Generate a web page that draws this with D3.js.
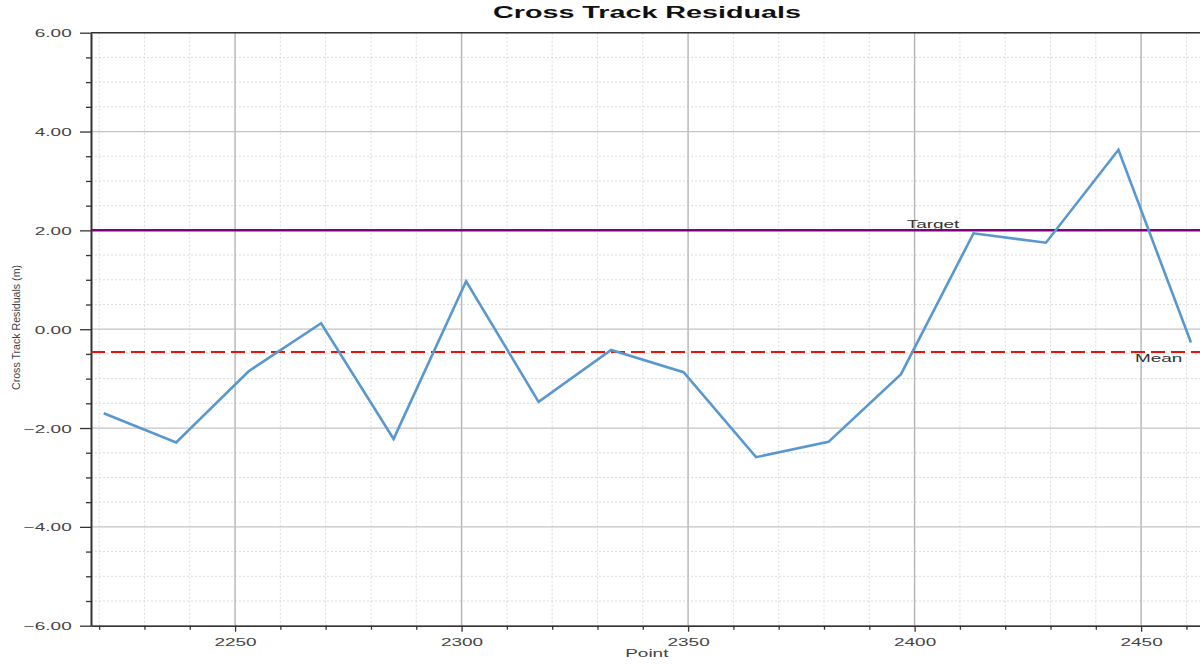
<!DOCTYPE html>
<html>
<head>
<meta charset="utf-8">
<script src="https://d3js.org/d3.v7.min.js"></script>
<style>
  html, body { margin: 0; padding: 0; background: #fff; }
  svg { display: block; }
  text { font-family: "Liberation Sans", Arial, sans-serif; }
</style>
</head>
<body>
<svg id="chart" width="1200" height="665"></svg>
<script>
// ---- data ----
const points = [2221, 2237, 2253, 2269, 2285, 2301, 2317, 2333, 2349, 2365, 2381, 2397, 2413, 2429, 2445, 2461];
const residuals = [-1.70, -2.29, -0.85, 0.12, -2.22, 0.97, -1.47, -0.42, -0.87, -2.59, -2.28, -0.91, 1.94, 1.75, 3.63, -0.27];
const targetValue = 2.0;
const meanValue = -0.46;
const yTicks = [-6, -4, -2, 0, 2, 4, 6];
const xTicks = [2250, 2300, 2350, 2400, 2450];
const xDomain = [2218.2, 2463];
const yDomain = [-6, 6];
const titleText = "Cross Track Residuals";
const xTitle = "Point";
const yTitle = "Cross Track Residuals (m)";

// ---- layout ----
const M = { l: 91, r: 1200, t: 32.7, b: 625.7 };
const SX = 1.62;      // horizontal stretch of text in the reference
const FS = 11.7;

const svg = d3.select("#chart");
const x = d3.scaleLinear().domain(xDomain).range([M.l, M.r]);
const y = d3.scaleLinear().domain(yDomain).range([M.b, M.t]);

// minor grid
const xMinor = d3.range(2220, 2464, 10).filter(v => !xTicks.includes(v));
const yMinor = d3.range(-6, 6.001, 0.5).filter(v => !yTicks.includes(v));

const grid = svg.append("g");
grid.selectAll("line.xm").data(xMinor).join("line")
  .attr("x1", d => x(d)).attr("x2", d => x(d)).attr("y1", M.t).attr("y2", M.b)
  .attr("stroke", "#dcdcdc").attr("stroke-width", 1).attr("stroke-dasharray", "2,2");
grid.selectAll("line.ym").data(yMinor).join("line")
  .attr("x1", M.l).attr("x2", M.r).attr("y1", d => y(d)).attr("y2", d => y(d))
  .attr("stroke", "#dcdcdc").attr("stroke-width", 1).attr("stroke-dasharray", "2,2");
grid.selectAll("line.xM").data(xTicks).join("line")
  .attr("x1", d => x(d)).attr("x2", d => x(d)).attr("y1", M.t).attr("y2", M.b)
  .attr("stroke", "#b4b4b4").attr("stroke-width", 1.4);
grid.selectAll("line.yM").data(yTicks).join("line")
  .attr("x1", M.l).attr("x2", M.r).attr("y1", d => y(d)).attr("y2", d => y(d))
  .attr("stroke", "#c4c4c4").attr("stroke-width", 1.2);

// top frame line
svg.append("line").attr("x1", M.l).attr("x2", M.r).attr("y1", M.t).attr("y2", M.t)
  .attr("stroke", "#333").attr("stroke-width", 1.5);

// axes
const yAxis = d3.axisLeft(y).tickValues(yTicks).tickSize(11).tickSizeOuter(0).tickFormat(d3.format(".2f"));
const yMinorAxis = d3.axisLeft(y).tickValues(yMinor).tickSize(5).tickFormat("");
const xAxis = d3.axisBottom(x).tickValues(xTicks).tickSize(6).tickSizeOuter(0).tickFormat(d3.format("d"));
const xMinorAxis = d3.axisBottom(x).tickValues(xMinor).tickSize(4).tickFormat("");

const gy = svg.append("g").attr("transform", `translate(${M.l},0)`).call(yAxis);
svg.append("g").attr("transform", `translate(${M.l},0)`).call(yMinorAxis).select(".domain").remove();
const gx = svg.append("g").attr("transform", `translate(0,${M.b})`).call(xAxis);
svg.append("g").attr("transform", `translate(0,${M.b})`).call(xMinorAxis).select(".domain").remove();

svg.selectAll(".tick line").attr("stroke", "#333").attr("stroke-width", 1.3);
gy.select(".domain").attr("stroke", "#333").attr("stroke-width", 2);
gx.select(".domain").attr("stroke", "#333").attr("stroke-width", 1.5);

gy.selectAll(".tick text")
  .attr("x", -19.3 / SX).attr("dy", "0.35em")
  .attr("transform", `scale(${SX},1)`)
  .attr("font-size", FS).attr("fill", "#444").attr("font-family", "Liberation Sans, Arial, sans-serif");
gx.selectAll(".tick text")
  .attr("y", 20.3).attr("dy", 0)
  .attr("transform", `scale(${SX},1)`)
  .attr("font-size", FS).attr("fill", "#444").attr("font-family", "Liberation Sans, Arial, sans-serif");

// reference lines
svg.append("line")
  .attr("x1", M.l).attr("x2", M.r).attr("y1", y(targetValue)).attr("y2", y(targetValue))
  .attr("stroke", "#800080").attr("stroke-width", 2.5);
svg.append("line")
  .attr("x1", M.l).attr("x2", M.r).attr("y1", y(meanValue)).attr("y2", y(meanValue))
  .attr("stroke", "#e8120c").attr("stroke-width", 2).attr("stroke-dasharray", "14,6");

// data line
const data = points.map((p, i) => ({ p, v: residuals[i] }));
svg.append("path").datum(data)
  .attr("fill", "none").attr("stroke", "#5898cf").attr("stroke-width", 2.6)
  .attr("stroke-linejoin", "miter")
  .attr("d", d3.line().x(d => x(d.p)).y(d => y(d.v)));

// stretched text helper
function label(txt, px, py, anchor, opts = {}) {
  const g = svg.append("g").attr("transform", `translate(${px},${py})`);
  const t = g.append("text").text(txt)
    .attr("text-anchor", anchor)
    .attr("font-size", opts.size || FS)
    .attr("font-weight", opts.weight || "normal")
    .attr("fill", opts.fill || "#333");
  if (opts.length) {
    t.attr("textLength", opts.length).attr("lengthAdjust", "spacingAndGlyphs");
  } else {
    t.attr("transform", `scale(${SX},1)`);
  }
  return g;
}

label("Target", 906.7, 227.7, "start", { fill: "#333" });
label("Mean", 1135, 361.7, "start", { fill: "#333" });
label(xTitle, 646.8, 657.3, "middle", { fill: "#444" });
label(titleText, 647, 17.5, "middle", { size: 15.8, weight: "bold", fill: "#111", length: 308 });

// y title (rotated)
svg.append("g").attr("transform", `translate(19.5,327.5) rotate(-90)`)
  .append("text").text(yTitle)
  .attr("text-anchor", "middle")
  .attr("font-size", 11.5).attr("fill", "#444")
  .attr("textLength", 125).attr("lengthAdjust", "spacingAndGlyphs");
</script>
</body>
</html>
